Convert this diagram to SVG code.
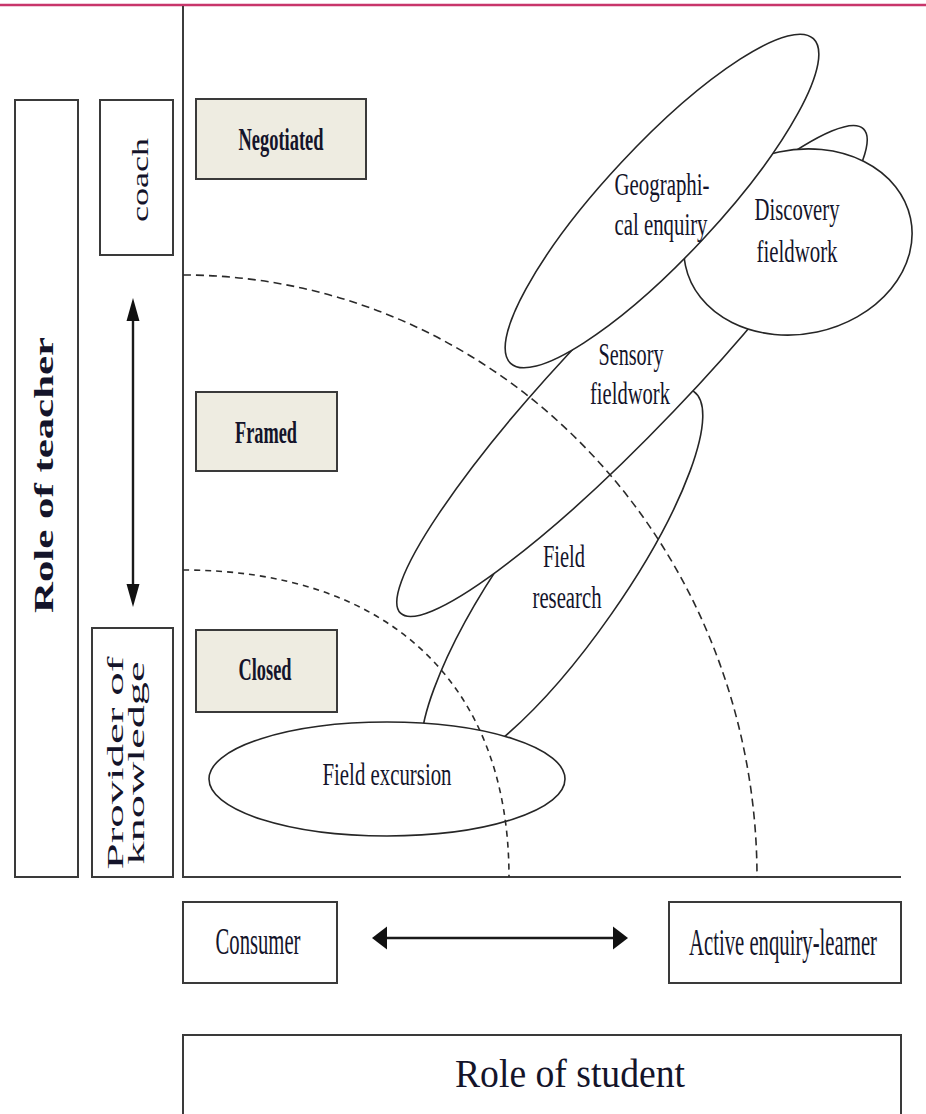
<svg xmlns="http://www.w3.org/2000/svg" width="926" height="1114" viewBox="0 0 926 1114">
<style>
.box{fill:#ffffff;stroke:#3a3a3a;stroke-width:2}
.tag{fill:#eeece1;stroke:#3a3a3a;stroke-width:2}
.ell{fill:#ffffff;stroke:#262626;stroke-width:1.6}
.axis{stroke:#3c3c3c;stroke-width:2;fill:none}
.dash1{fill:none;stroke:#2a2a2a;stroke-width:1.6;stroke-dasharray:8 5}
.dash2{fill:none;stroke:#2a2a2a;stroke-width:1.6;stroke-dasharray:6 5}
.arr{stroke:#1a1a1a;stroke-width:2.4;fill:none}
.head{fill:#111111}
text{font-family:"Liberation Serif","Times New Roman",serif;fill:#14142a;text-anchor:middle}
.b{font-weight:bold}
</style>
<rect width="926" height="1114" fill="#ffffff"/>
<line x1="0" y1="5" x2="926" y2="5" stroke="#c8366b" stroke-width="2.6"/>

<g id="axes">
<line class="axis" x1="183" y1="6" x2="183" y2="878"/>
<line class="axis" x1="182" y1="877" x2="901" y2="877"/>
</g>

<g id="role-of-teacher">
<rect class="box" x="15" y="100" width="63" height="777"/>
<text class="b" font-size="27" textLength="276" lengthAdjust="spacingAndGlyphs" transform="translate(53,475) rotate(-90)">Role of  teacher</text>
</g>
<g id="coach">
<rect class="box" x="100" y="100" width="73" height="155"/>
<text font-size="24" textLength="84" lengthAdjust="spacingAndGlyphs" transform="translate(148,180) rotate(-90)">coach</text>
</g>
<g id="provider">
<rect class="box" x="92" y="628" width="81" height="249"/>
<text font-size="24" textLength="213" lengthAdjust="spacingAndGlyphs" transform="translate(123,763) rotate(-90)">Provider of</text>
<text font-size="24" textLength="203" lengthAdjust="spacingAndGlyphs" transform="translate(144,763) rotate(-90)">knowledge</text>
</g>

<g id="negotiated">
<rect class="tag" x="196" y="99" width="170" height="80"/>
<text class="b" x="281" y="150" font-size="32" textLength="85" lengthAdjust="spacingAndGlyphs">Negotiated</text>
</g>
<g id="framed">
<rect class="tag" x="196" y="392" width="141" height="79"/>
<text class="b" x="266" y="443" font-size="32" textLength="62" lengthAdjust="spacingAndGlyphs">Framed</text>
</g>
<g id="closed">
<rect class="tag" x="196" y="630" width="141" height="82"/>
<text class="b" x="265" y="680" font-size="32" textLength="53" lengthAdjust="spacingAndGlyphs">Closed</text>
</g>

<g id="field-research">
<ellipse class="ell" cx="562" cy="580" rx="230" ry="60" transform="rotate(-55 562 580)"/>
</g>
<g id="sensory-fieldwork">
<ellipse class="ell" cx="632" cy="371" rx="335" ry="58" transform="rotate(-46.3 632 371)"/>
</g>
<g id="discovery-fieldwork">
<ellipse class="ell" cx="798" cy="242" rx="115" ry="92" transform="rotate(-12 798 242)"/>
</g>
<g id="geographical-enquiry">
<ellipse class="ell" cx="662" cy="201" rx="222" ry="56" transform="rotate(-47 662 201)"/>
</g>
<g id="field-excursion">
<ellipse class="ell" cx="387" cy="779" rx="178" ry="57"/>
</g>

<g id="connectors">
<path class="dash1" d="M183,275 A574,602 0 0 1 757,877"/>
<path class="dash2" d="M183,570 C388,570 509,683 509,877"/>
<line class="arr" x1="133" y1="318" x2="133" y2="587"/>
<polygon class="head" points="133,298 126.5,321 139.5,321"/>
<polygon class="head" points="133,607 126.5,584 139.5,584"/>
<line class="arr" x1="385" y1="938" x2="615" y2="938"/>
<polygon class="head" points="372,938 387,926.5 387,949.5"/>
<polygon class="head" points="628,938 613,926.5 613,949.5"/>
</g>

<g id="labels">
<text x="662" y="195" font-size="32" textLength="95" lengthAdjust="spacingAndGlyphs">Geographi-</text>
<text x="661" y="235" font-size="32" textLength="93" lengthAdjust="spacingAndGlyphs">cal enquiry</text>
<text x="797" y="220" font-size="32" textLength="85" lengthAdjust="spacingAndGlyphs">Discovery</text>
<text x="797" y="262" font-size="32" textLength="81" lengthAdjust="spacingAndGlyphs">fieldwork</text>
<text x="631" y="365" font-size="32" textLength="65" lengthAdjust="spacingAndGlyphs">Sensory</text>
<text x="630" y="404" font-size="32" textLength="80" lengthAdjust="spacingAndGlyphs">fieldwork</text>
<text x="564" y="567" font-size="32" textLength="42" lengthAdjust="spacingAndGlyphs">Field</text>
<text x="567" y="608" font-size="32" textLength="69" lengthAdjust="spacingAndGlyphs">research</text>
<text x="387" y="785" font-size="32" textLength="129" lengthAdjust="spacingAndGlyphs">Field excursion</text>
</g>

<g id="consumer">
<rect class="box" x="183" y="902" width="154" height="81"/>
<text x="258" y="954" font-size="38" textLength="85" lengthAdjust="spacingAndGlyphs">Consumer</text>
</g>
<g id="active-learner">
<rect class="box" x="669" y="902" width="232" height="81"/>
<text font-size="38" transform="translate(783,955) scale(0.545,1)">Active enquiry-learner</text>
</g>
<g id="role-of-student">
<rect class="box" x="183" y="1035" width="718" height="100"/>
<text x="570" y="1087" font-size="40" textLength="230" lengthAdjust="spacingAndGlyphs">Role of student</text>
</g>
</svg>
